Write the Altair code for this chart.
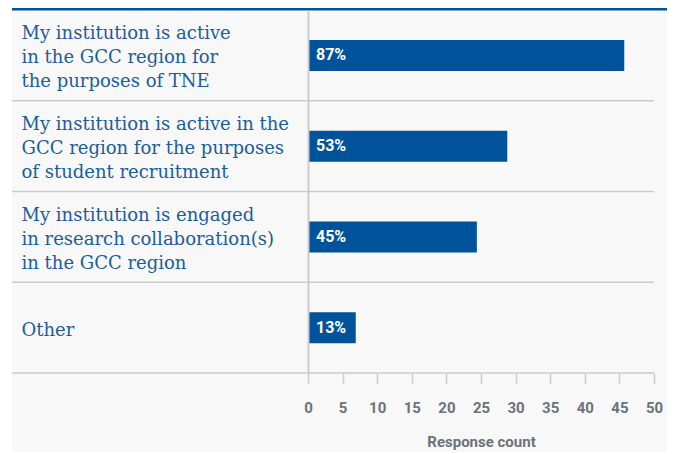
import altair as alt
import pandas as pd

categories = [
    "My institution is active|in the GCC region for|the purposes of TNE",
    "My institution is active in the|GCC region for the purposes|of student recruitment",
    "My institution is engaged|in research collaboration(s)|in the GCC region",
    "|Other|",
]
counts = [45.7, 28.8, 24.4, 6.9]
pct_labels = ["87%", "53%", "45%", "13%"]
x_ticks = [0, 5, 10, 15, 20, 25, 30, 35, 40, 45, 50]

df = pd.DataFrame({"category": categories, "count": counts, "pct": pct_labels})
one = pd.DataFrame({"k": [0]})

BLUE = "#00529b"
LABEL_BLUE = "#1b5c9e"
GRID = "#cbcbcb"
GRAY = "#6b7279"
BG = "#f8f8f8"

W, H = 346, 363

y_axis = alt.Axis(
    title=None,
    labelExpr="split(datum.label, '|')",
    labelAlign="left",
    labelBaseline="middle",
    labelPadding=287,
    labelOffset=-21,
    labelFont="DejaVu Serif",
    labelFontSize=18,
    labelLineHeight=24,
    labelColor=LABEL_BLUE,
    labelLimit=300,
    ticks=False,
    tickSize=0,
    domain=True,
    domainColor=GRID,
    domainWidth=2,
    grid=False,
    zindex=1,
)

x_axis = alt.Axis(
    values=x_ticks,
    tickCount=11,
    title="Response count",
    grid=False,
    domain=False,
    ticks=True,
    tickSize=10,
    tickColor=GRID,
    tickWidth=1.5,
    labelOverlap=False,
    labelFlush=False,
    labelFont="Roboto",
    labelFontWeight="bold",
    labelFontSize=15,
    labelColor=GRAY,
    labelPadding=17,
    titleFont="Roboto",
    titleFontWeight="bold",
    titleFontSize=15,
    titleColor=GRAY,
    titlePadding=19,
    zindex=1,
)

y_scale = alt.Scale(paddingInner=0, paddingOuter=0)
x_scale = alt.Scale(domain=[0, 50], nice=False)

background = alt.Chart(one).mark_rect(color=BG).encode(
    x=alt.value(-296), x2=alt.value(360), y=alt.value(-2), y2=alt.value(442)
)
header = alt.Chart(one).mark_rect(color=BLUE).encode(
    x=alt.value(-296), x2=alt.value(360), y=alt.value(-2), y2=alt.value(0.5)
)

rules = alt.Chart(df).mark_rule(color=GRID, strokeWidth=1.5).encode(
    y=alt.Y("category:N", sort=categories, scale=y_scale, axis=y_axis, bandPosition=1),
    x=alt.value(-296),
    x2=alt.value(W),
)

bars = alt.Chart(df).mark_bar(color=BLUE, height=31).encode(
    y=alt.Y("category:N", sort=categories, scale=y_scale, axis=y_axis),
    x=alt.X("count:Q", scale=x_scale, axis=x_axis),
)

texts = alt.Chart(df).mark_text(
    align="left", baseline="middle", dx=8, color="white",
    font="Roboto", fontWeight="bold", fontSize=16,
).encode(
    y=alt.Y("category:N", sort=categories, scale=y_scale, axis=y_axis),
    x=alt.XDatum(0, scale=x_scale, axis=x_axis),
    text="pct:N",
)

chart = alt.layer(background, header, rules, bars, texts).properties(
    width=W,
    height=H,
    autosize=alt.AutoSizeParams(type="none"),
    padding={"left": 300, "top": 2, "right": 13, "bottom": 79},
    background="white",
).configure_view(stroke=None)

chart.save("out.html", embed_options={"renderer": "svg", "actions": False})
